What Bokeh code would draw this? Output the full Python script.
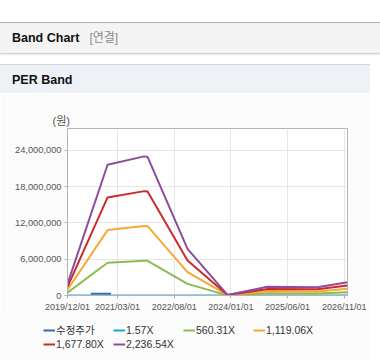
import pandas as pd
from bokeh.plotting import figure
from bokeh.models import (Div, Legend, LegendItem, Title, FixedTicker,
                          DatetimeTickFormatter, NumeralTickFormatter, Range1d,
                          ColumnDataSource)
from bokeh.layouts import column
from bokeh.embed import file_html
from bokeh.resources import INLINE

# ---------------- data ----------------
band_dates = ["2019-12-01", "2020-12-01", "2021-11-01", "2021-12-01", "2022-12-01",
              "2023-12-01", "2024-12-01", "2026-03-01", "2026-12-01"]
eps = [850, 9660, 10280, 10240, 3440, 45, 650, 605, 985]          # won (EPS)
per_multiples = [1.57, 560.31, 1119.06, 1677.80, 2236.54]
band_labels = ["1.57X", "560.31X", "1,119.06X", "1,677.80X", "2,236.54X"]
band_colors = ["#1fa9c2", "#8dbb52", "#f6a935", "#cc2b2b", "#8f4b9f"]

price_dates = ["2020-07-01", "2020-08-01", "2020-09-01", "2020-10-01",
               "2020-11-01", "2020-12-01", "2021-01-01"]
price_values = [270000, 290000, 300000, 280000, 290000, 300000, 280000]
price_label = "수정주가"
price_color = "#2e6db4"

x_tick_labels = ["2019/12/01", "2021/03/01", "2022/08/01", "2024/01/01",
                 "2025/06/01", "2026/11/01"]
y_ticks = [0, 6000000, 12000000, 18000000, 24000000]
x_start, x_end = "2019-12-01", "2026-12-01"
y_max = 27600000


def to_ms(s):
    return pd.Timestamp(s.replace("/", "-")).value // 10**6


FONT = "Liberation Sans, Noto Sans CJK KR, sans-serif"
BG = "#fbfbfb"

# ---------------- header ----------------
header_html = """
<div style="position:relative;width:380px;height:93px;font-family:'Liberation Sans','Noto Sans CJK KR',sans-serif;">
 <div style="position:absolute;left:0;top:22px;width:380px;height:1px;background:#b4b4b4;"></div>
 <div style="position:absolute;left:0;top:23px;width:380px;height:30px;background:#f4f4f4;box-shadow:0 1px 2px rgba(0,0,0,0.25);"></div>
 <div style="position:absolute;left:12px;top:23px;height:30px;line-height:31px;font-size:12.5px;font-weight:bold;color:#111;white-space:nowrap;">Band Chart<span style="font-weight:normal;color:#8a8a8a;margin-left:10px;font-size:12px;">[연결]</span></div>
 <div style="position:absolute;left:0;top:64px;width:370px;height:1px;background:#d6d6d6;"></div>
 <div style="position:absolute;left:0;top:65px;width:370px;height:28px;background:#eef1f6;"></div>
 <div style="position:absolute;left:12px;top:65px;height:28px;line-height:30px;font-size:12.5px;font-weight:bold;color:#111;white-space:nowrap;">PER Band</div>
</div>
"""
header = Div(text=header_html, width=380, height=93, margin=0)

footer = Div(text='<div style="position:relative;width:380px;height:4px;">'
                  '<div style="position:absolute;left:0;top:2px;width:380px;height:1px;background:#d4d4d4;"></div></div>',
             width=380, height=4, margin=0)

# ---------------- main figure ----------------
p = figure(width=370, height=223, x_axis_type="datetime",
           output_backend="svg", toolbar_location=None,
           x_range=Range1d(to_ms(x_start), to_ms(x_end)),
           y_range=Range1d(0, y_max),
           min_border_left=67, min_border_right=23,
           min_border_top=35, min_border_bottom=21,
           border_fill_color=BG, background_fill_color="#ffffff",
           outline_line_color="#b4b4b4", margin=0, frame_align=False)

bx = [to_ms(d) for d in band_dates]
price_src = ColumnDataSource(dict(x=[to_ms(d) for d in price_dates], y=price_values))
sources = [price_src]
p.line("x", "y", source=price_src, line_width=2, line_color=price_color)
for mult, col in zip(per_multiples, band_colors):
    src = ColumnDataSource(dict(x=bx, y=[e * mult for e in eps]))
    sources.append(src)
    p.line("x", "y", source=src, line_width=2, line_color=col)

p.xaxis.ticker = FixedTicker(ticks=[to_ms(t) for t in x_tick_labels])
fmt = "%Y/%m/%d"
p.xaxis.formatter = DatetimeTickFormatter(days=fmt, months=fmt, years=fmt,
                                          hours=fmt, hourmin=fmt, minutes=fmt)
p.yaxis.ticker = FixedTicker(ticks=y_ticks)
p.yaxis.formatter = NumeralTickFormatter(format="0,0")
for ax in (p.xaxis[0], p.yaxis[0]):
    ax.axis_line_color = "#b4b4b4"
    ax.major_tick_line_color = "#b4b4b4"
    ax.major_tick_out = 3
    ax.major_tick_in = 0
    ax.minor_tick_line_color = None
    ax.major_label_text_font = FONT
    ax.major_label_text_color = "#555555"
    ax.major_label_standoff = 3
p.xaxis.major_label_text_font_size = "9px"
p.yaxis.major_label_text_font_size = "9.3px"
p.xgrid.grid_line_color = "#e6e6e6"
p.ygrid.grid_line_color = "#e6e6e6"

unit = Title(text="(원)", align="left", offset=-15, standoff=4,
             text_font=FONT, text_font_size="11px", text_font_style="normal",
             text_color="#555555")
p.add_layout(unit, "above")

# ---------------- legend (separate strip, same series) ----------------
lg = figure(width=370, height=44, output_backend="svg", toolbar_location=None,
            x_range=Range1d(0, 1), y_range=Range1d(-2, -1),
            x_axis_location=None, y_axis_location=None,
            min_border=0, min_border_left=0, min_border_right=0,
            min_border_top=0, min_border_bottom=0,
            border_fill_color=BG, background_fill_color=BG,
            outline_line_color=None, margin=0, frame_align=False)
lg.xgrid.visible = False
lg.ygrid.visible = False
items = []
for lab, col, src in zip([price_label] + band_labels, [price_color] + band_colors, sources):
    r = lg.line("x", "y", source=src, line_width=2, line_color=col)
    items.append(LegendItem(label=lab, renderers=[r]))
legend = Legend(items=items, location=(43, 9), orientation="horizontal", ncols=4,
                glyph_width=12, glyph_height=12, label_standoff=1,
                label_width=57, label_height=14, spacing=0, padding=0, margin=0,
                border_line_color=None, background_fill_alpha=0,
                label_text_font=FONT, label_text_font_size="10.5px",
                label_text_color="#333333")
lg.add_layout(legend)

layout = column(header, p, lg, footer, spacing=0)
open("out.html", "w").write(file_html(layout, INLINE))
